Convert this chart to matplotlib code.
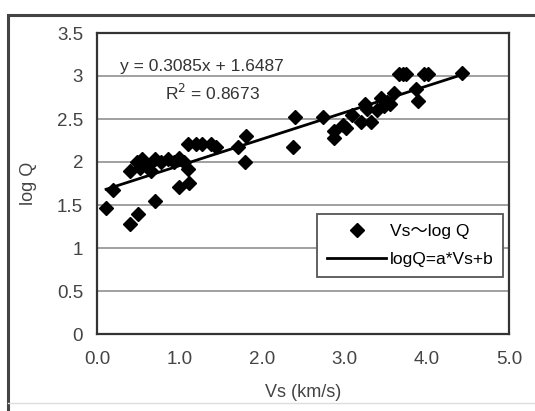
import matplotlib.pyplot as plt
import numpy as np
from matplotlib.patches import Rectangle

# Vs (km/s) と log Q の読み取り値
vs = [0.11, 0.19, 0.40, 0.50, 0.70, 1.00, 1.12,
      0.40, 0.48, 0.55, 0.61, 0.70, 0.78, 0.86, 0.94, 1.00, 1.06, 1.10, 0.52, 0.66,
      1.11, 1.20, 1.28, 1.38, 1.44,
      1.71, 1.81, 1.80,
      2.40, 2.38, 2.74, 2.88, 2.88, 2.98, 3.02, 3.20, 3.33, 3.25, 3.28,
      3.45, 3.48, 3.52, 3.56, 3.40, 3.89, 3.87, 3.10, 3.60,
      3.67, 3.71, 3.75, 3.97, 4.02, 4.43]
logq = [1.47, 1.68, 1.28, 1.39, 1.55, 1.71, 1.75,
        1.90, 2.00, 2.03, 1.95, 2.03, 2.00, 2.03, 2.00, 2.05, 2.00, 1.92, 1.93, 1.90,
        2.21, 2.21, 2.21, 2.21, 2.17,
        2.18, 2.30, 2.00,
        2.52, 2.18, 2.52, 2.28, 2.36, 2.43, 2.40, 2.46, 2.46, 2.68, 2.62,
        2.74, 2.65, 2.70, 2.68, 2.60, 2.71, 2.85, 2.55, 2.80,
        3.02, 3.02, 3.02, 3.02, 3.02, 3.03]

a = 0.3085
b = 1.6487
r2 = 0.8673

plt.rcParams['font.family'] = ['Liberation Sans', 'Noto Sans CJK JP', 'DejaVu Sans']

fig = plt.figure(figsize=(5.35, 4.11), dpi=100)
fig.patches.append(Rectangle((8 / 535, -0.05), 1.0, 1.05 - 15 / 411,
                             transform=fig.transFigure, fill=False,
                             edgecolor='#444444', linewidth=2.2))
fig.lines.append(plt.Line2D([8 / 535, 1], [8 / 411, 8 / 411], transform=fig.transFigure,
                            color='#dddddd', linewidth=1))

ax = fig.add_axes([97 / 535, 77 / 411, 412 / 535, 301 / 411])
ax.set_xlim(0, 5)
ax.set_ylim(0, 3.5)
ax.set_xticks(np.arange(0, 5.01, 1.0))
ax.set_xticklabels(['0.0', '1.0', '2.0', '3.0', '4.0', '5.0'])
ax.set_yticks(np.arange(0, 3.51, 0.5))
ax.set_yticklabels(['0', '0.5', '1', '1.5', '2', '2.5', '3', '3.5'])
ax.tick_params(length=0, labelsize=13.5, colors='#444444')
ax.tick_params(axis='x', pad=12)
ax.tick_params(axis='y', pad=10)
ax.grid(True, axis='y', color='#999999', linewidth=1.3)
ax.set_axisbelow(True)
for s in ax.spines.values():
    s.set_color('#333333')
    s.set_linewidth(1.6)

ax.plot(vs, logq, linestyle='none', marker='D', markersize=7,
        color='black', label='Vs～log Q', zorder=3)
xs = np.array([min(vs), max(vs)])
ax.plot(xs, a * xs + b, color='black', linewidth=2, label='logQ=a*Vs+b', zorder=2)

ax.text(0.28, 3.11, f'y = {a}x + {b}', fontsize=12.5, color='#333333', va='center')
ax.text(0.83, 2.8, f'R$^2$ = {r2}', fontsize=12.5, color='#333333', va='center')

ax.set_xlabel('Vs (km/s)', fontsize=13, color='#444444', labelpad=12)
ax.set_ylabel('log Q', fontsize=13, color='#444444', labelpad=14)

leg = ax.legend(loc='lower right', bbox_to_anchor=(0.985, 0.19), fontsize=12.5,
                fancybox=False, framealpha=1, edgecolor='#555555',
                handlelength=3.4, handletextpad=0.2, borderpad=0.55,
                labelspacing=0.75, borderaxespad=0)
leg.get_frame().set_linewidth(1.3)

fig.savefig('out.png', dpi=100)
